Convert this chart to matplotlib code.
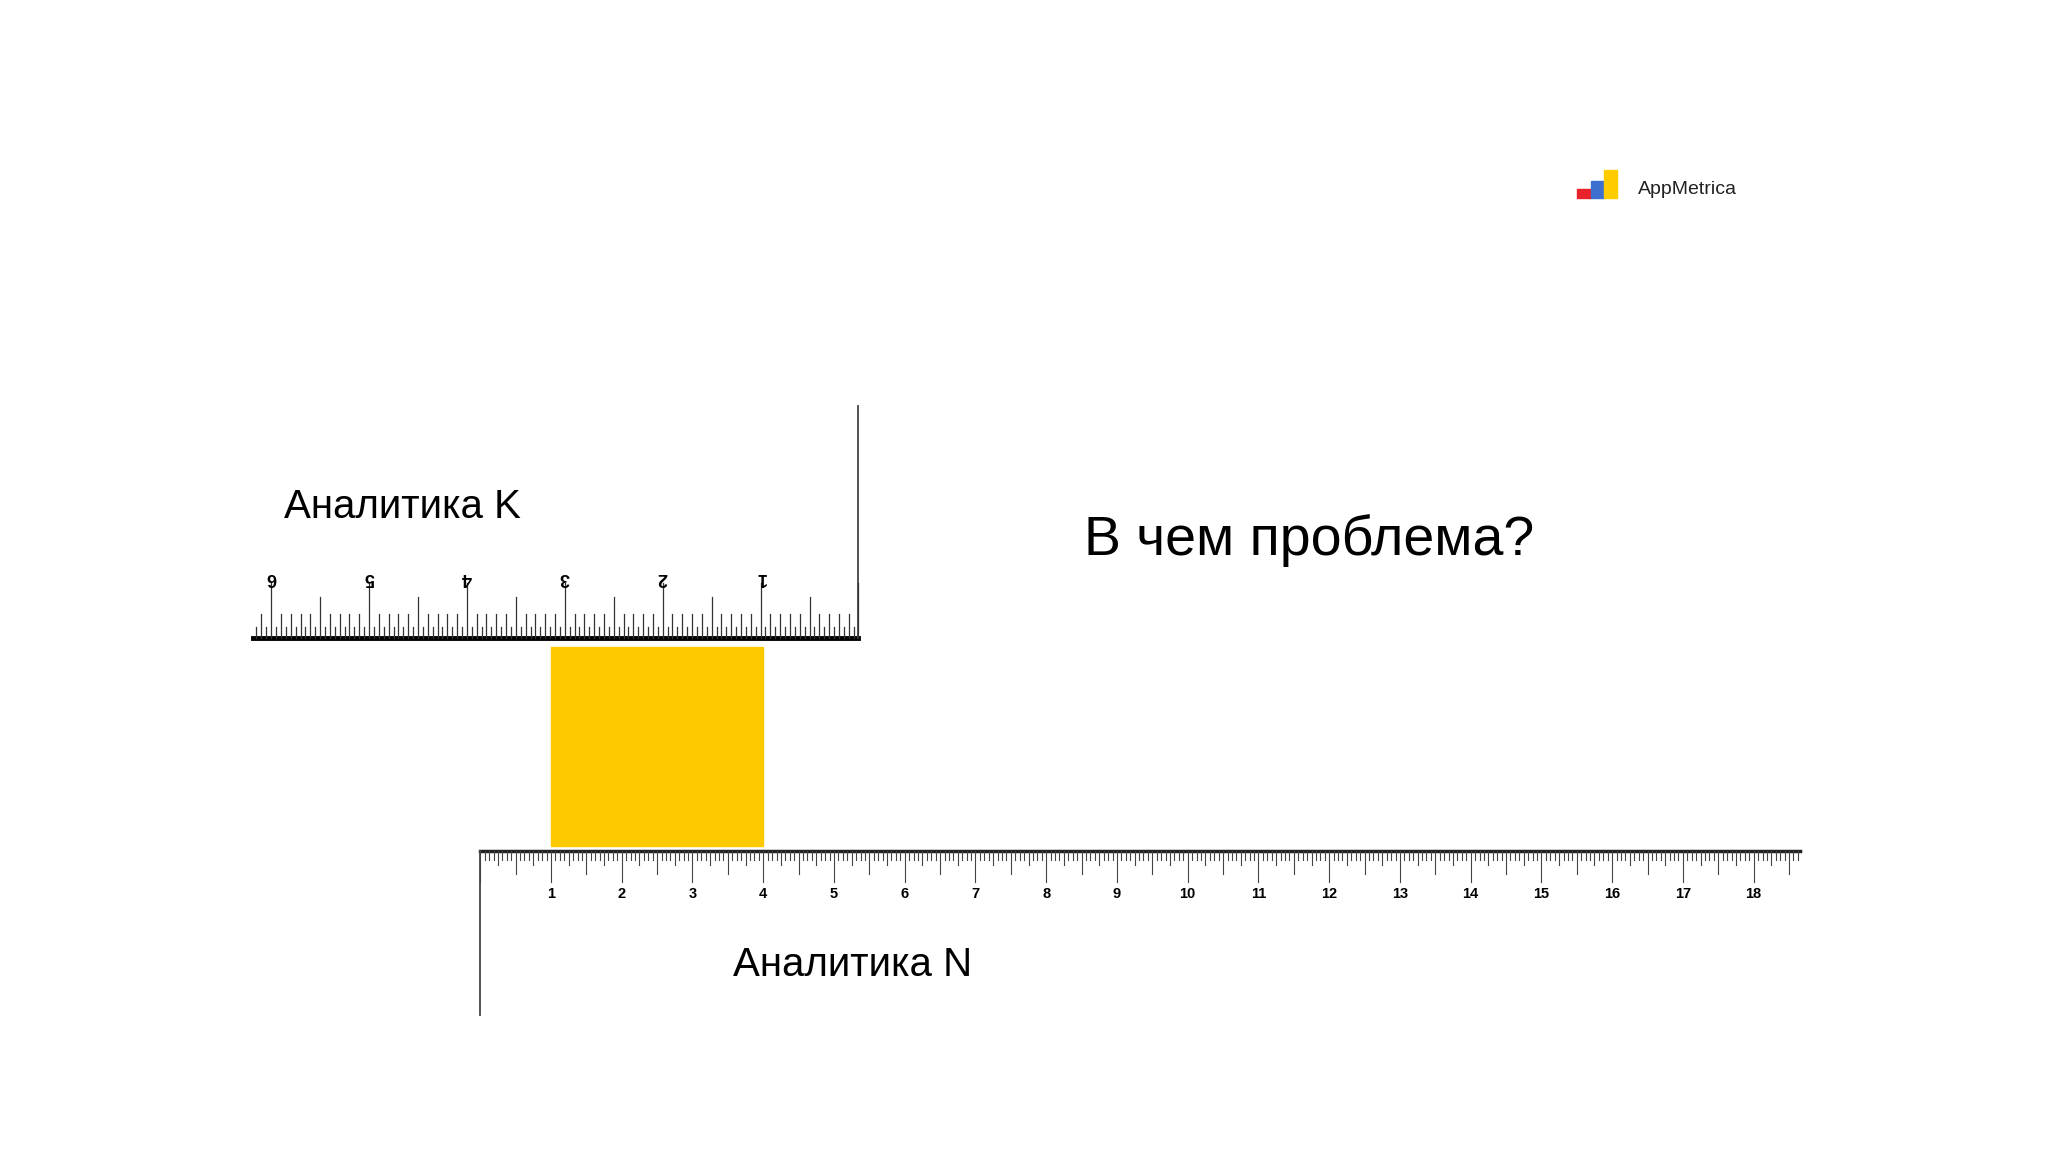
import numpy as np
import matplotlib.pyplot as plt
from matplotlib.patches import Rectangle

plt.rcParams["font.family"] = ["Liberation Sans", "DejaVu Sans"]

# rulers
top_labels = [1, 2, 3, 4, 5, 6]
top_units = 6.19
bottom_labels = list(range(1, 19))
bottom_units = 18.65
box_range = [1, 4]  # in bottom ruler units
box_color = "#FFC900"

fig = plt.figure(figsize=(20.48, 11.52), dpi=100)
ax = fig.add_axes([0, 0, 1, 1])
ax.set_xlim(0, 1565)
ax.set_ylim(880, 0)
ax.axis("off")

# top ruler (upside down), zero at right
x0, y0, step = 656, 487, 74.8
ax.plot([x0 - top_units * step, x0], [y0, y0], color="black", lw=3.5)
ax.plot([x0, x0], [310, y0], color="#444444", lw=1.3)
for i in range(int(top_units * 20) + 1):
    x = x0 - i * step / 20
    if i % 20 == 0:
        h = 42
    elif i % 10 == 0:
        h = 31
    elif i % 2 == 0:
        h = 18
    else:
        h = 8
    ax.plot([x, x], [y0, y0 - h], color="#333333", lw=0.9)
for v in top_labels:
    ax.text(x0 - v * step, y0 - 46, str(v), rotation=180, ha="center", va="center",
            fontsize=13, fontweight="bold")

# bottom ruler, zero at left
x1, y1, step1 = 367, 650, 54.06
ax.plot([x1, x1 + bottom_units * step1], [y1, y1], color="#222222", lw=2.5)
ax.plot([x1, x1], [y1, 775], color="#444444", lw=1.3)
for i in range(int(bottom_units * 16) + 1):
    x = x1 + i * step1 / 16
    if i % 16 == 0:
        h = 24
    elif i % 8 == 0:
        h = 18
    elif i % 4 == 0:
        h = 11
    else:
        h = 7
    ax.plot([x, x], [y1, y1 + h], color="#444444", lw=0.8)
for v in bottom_labels:
    ax.text(x1 + v * step1, y1 + 33, str(v), ha="center", va="center",
            fontsize=10.5, fontweight="bold")

# yellow box
ax.add_patch(Rectangle((x1 + box_range[0] * step1, 494),
                       (box_range[1] - box_range[0]) * step1, 152, color=box_color))

ax.text(217, 387, "Аналитика K", fontsize=29, va="center", ha="left")
ax.text(560, 737, "Аналитика N", fontsize=29, va="center", ha="left")
ax.text(1000, 413, "В чем проблема?", fontsize=40, va="center", ha="center")

# logo
ax.add_patch(Rectangle((1205, 144), 11, 7, color="#E8212B"))
ax.add_patch(Rectangle((1216, 138), 10, 13, color="#3D6FD0"))
ax.add_patch(Rectangle((1226, 130), 10, 21, color="#FFCC00"))
ax.text(1252, 145, "AppMetrica", fontsize=14, va="center", ha="left", color="#222222")

fig.savefig("out.png")
